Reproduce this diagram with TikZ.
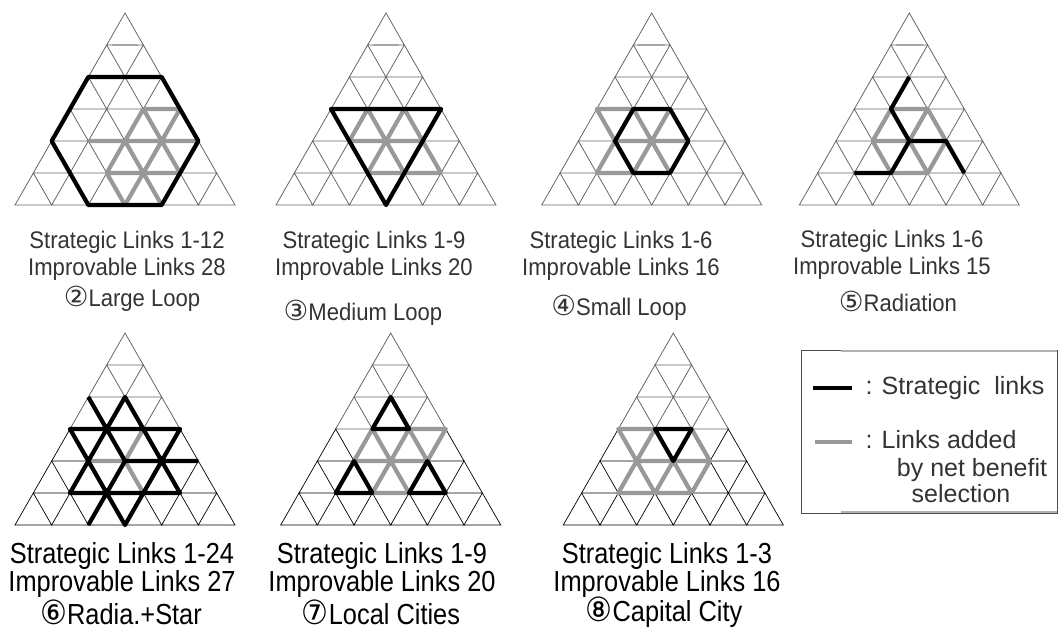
\documentclass[tikz,border=0pt]{standalone}
\usepackage{fontspec}
\setmainfont{Liberation Sans}
\newfontfamily\topfont{Liberation Sans}[FakeStretch=0.92]
\newfontfamily\condfont{Liberation Sans}[FakeStretch=0.875]
\newfontfamily\circfont{DejaVu Sans}[Scale=1.15]
\newfontfamily\condcirc{DejaVu Sans}[Scale=1.15, FakeStretch=0.9]
\tikzset{
    lattice/.style={black, line width=0.7pt}, % thin grid lines
    faint/.style={black!60, line width=0.8pt}, % blurred grid lines
    strat/.style={black, line width=4.2pt, line join=round}, % strategic links
    added/.style={gray!80, line width=4.2pt, line join=round}, % links added by net benefit
    topdash/.style={black!35, line width=2.2pt, shorten <=5pt, shorten >=5pt},
    toptext/.style={align=center, text=black!80, font=\topfont\fontsize{24}{27}\selectfont},
    bottext/.style={align=center, font=\condfont\fontsize{29}{27}\selectfont},
    legtext/.style={anchor=west, text=black!80, font=\fontsize{25}{29}\selectfont},
    }
% triangular grid: name, apex x, apex y, style of upper rows, style of lower rows
\newcommand{\trigrid}[5]{%
  \foreach \r in {0,...,6}
    \foreach \k in {0,...,\r}
      \coordinate (#1-\r-\k) at ({#2+(\k-\r/2)*36.67},{#3+\r*32});
  \foreach \r in {0,...,5}{
    \pgfmathtruncatemacro\rr{\r+1}
    \foreach \k in {0,...,\r}{
      \pgfmathtruncatemacro\kk{\k+1}
      \ifnum\r<3
        \draw[#4] (#1-\r-\k) -- (#1-\rr-\k) -- (#1-\rr-\kk) -- cycle;
      \else
        \draw[#5] (#1-\r-\k) -- (#1-\rr-\k) -- (#1-\rr-\kk) -- cycle;
      \fi
    }
  }
}

\begin{document}
\begin{tikzpicture}[x=1pt, y=-1pt]
\useasboundingbox (0,0) rectangle (1058,633);

% top row
\trigrid{L}{125}{13}{faint}{faint}
\trigrid{M}{386}{13}{faint}{faint}
\trigrid{S}{651.7}{13}{faint}{faint}
\trigrid{R}{909.3}{13}{faint}{faint}
% bottom row
\trigrid{X}{125}{333}{faint}{lattice}
\trigrid{C}{390.7}{333}{faint}{lattice}
\trigrid{K}{673.3}{333}{faint}{lattice}

\foreach \t in {L,M,S,R}
  \draw[topdash] (\t-1-0) -- (\t-1-1);

% 2 large loop
\draw[added] (L-3-2) -- (L-3-3) (L-4-1) -- (L-4-4) (L-5-2) -- (L-5-4)
  (L-3-2) -- (L-5-2) (L-3-3) -- (L-6-3) (L-3-2) -- (L-5-4)
  (L-4-2) -- (L-6-4) (L-5-4) -- (L-4-4) (L-5-2) -- (L-6-3);
\draw[strat] (L-2-0) -- (L-2-2) -- (L-4-4) -- (L-6-4) -- (L-6-2) -- (L-4-0) -- cycle;

% 3 medium loop
\draw[added] (M-4-1) -- (M-4-3) (M-5-2) -- (M-5-4) (M-3-1) -- (M-4-1)
  (M-3-1) -- (M-4-2) (M-3-2) -- (M-5-2) (M-3-2) -- (M-5-4) (M-4-2) -- (M-5-3);
\draw[strat] (M-3-0) -- (M-3-3) -- (M-6-3) -- cycle;

% 4 small loop
\draw[added] (S-4-1) -- (S-4-3) (S-3-1) -- (S-5-3) (S-3-2) -- (S-5-2)
  (S-3-1) -- (S-3-0) -- (S-4-1) -- (S-5-1) -- (S-5-2);
\draw[strat] (S-3-1) -- (S-3-2) -- (S-4-3) -- (S-5-3) -- (S-5-2) -- (S-4-1) -- cycle;

% 5 radiation
\draw[added] (R-3-1) -- (R-3-2) -- (R-4-3) -- (R-5-3) -- (R-5-2) -- (R-4-1) -- cycle
  (R-4-2) -- (R-3-2) (R-4-2) -- (R-5-3) (R-4-2) -- (R-4-1);
\draw[strat] (R-2-1) -- (R-3-1) -- (R-4-2) -- (R-4-3) -- (R-5-4)
  (R-4-2) -- (R-5-2) -- (R-5-1);

% 6 radiation + star
\draw[added] (X-4-1) -- (X-4-2) -- (X-3-2) (X-4-2) -- (X-5-3);
\draw[strat] (X-2-1) -- (X-5-1) -- (X-5-4) -- cycle
  (X-3-0) -- (X-3-3) -- (X-6-3) -- cycle
  (X-2-0) -- (X-4-2) -- (X-4-4) (X-4-2) -- (X-6-2);

% 7 local cities
\draw[added] (C-3-2) -- (C-3-3) -- (C-4-3) (C-3-1) -- (C-4-1) (C-3-1) -- (C-5-3)
  (C-3-2) -- (C-5-2) (C-3-2) -- (C-4-3) (C-4-1) -- (C-4-3) (C-5-2) -- (C-5-3);
\draw[strat] (C-2-1) -- (C-3-1) -- (C-3-2) -- cycle
  (C-4-1) -- (C-5-1) -- (C-5-2) -- cycle
  (C-4-3) -- (C-5-3) -- (C-5-4) -- cycle;

% 8 capital city
\draw[added] (K-3-1) -- (K-3-0) -- (K-4-1) -- (K-3-1) (K-3-2) -- (K-4-3) -- (K-5-3)
  (K-4-1) -- (K-4-3) (K-4-1) -- (K-5-1) -- (K-5-3) (K-4-1) -- (K-5-2) -- (K-4-2) -- (K-5-3);
\draw[strat] (K-3-1) -- (K-3-2) -- (K-4-2) -- cycle;

% captions
\node[toptext] (L-cap) at (127,256) {Strategic Links 1-12\\Improvable Links 28};
\node[toptext] (L-title) at (132,299) {{\circfont②}Large Loop};
\node[toptext] (M-cap) at (374,256) {Strategic Links 1-9\\Improvable Links 20};
\node[toptext] (M-title) at (363,313) {{\circfont③}Medium Loop};
\node[toptext] (S-cap) at (621,256) {Strategic Links 1-6\\Improvable Links 16};
\node[toptext] (S-title) at (619,308) {{\circfont④}Small Loop};
\node[toptext] (R-cap) at (892,255) {Strategic Links 1-6\\Improvable Links 15};
\node[toptext] (R-title) at (898,301) {{\circfont⑤}Radiation};

\node[bottext] (X-cap) at (122,570) {Strategic Links 1-24\\Improvable Links 27};
\node[bottext] (X-title) at (121,612) {{\condcirc⑥}Radia.+Star};
\node[bottext] (C-cap) at (382,570) {Strategic Links 1-9\\Improvable Links 20};
\node[bottext] (C-title) at (381,612) {{\condcirc⑦}Local Cities};
\node[bottext] (K-cap) at (667,570) {Strategic Links 1-3\\Improvable Links 16};
\node[bottext] (K-title) at (664,612) {{\condcirc⑧}Capital City};

% legend
\draw[black!70, line width=0.8pt] (801,350) rectangle (1057,513);
\draw[gray!60, line width=2.5pt] (841,351) -- (1057,351) (841,512) -- (1057,512);
\coordinate (sw1a) at (813,388);
\coordinate (sw1b) at (852,388);
\coordinate (sw2a) at (815,442);
\coordinate (sw2b) at (852,442);
\draw[strat, line width=4.5pt] (sw1a) -- (sw1b);
\draw[added, line width=4pt] (sw2a) -- (sw2b);
\node[legtext] (leg1) at (862,388) {: Strategic\ \ links};
\node[legtext] (leg2) at (862,440) {: Links added};
\node[legtext, anchor=center] (leg3) at (972,470) {by net benefit};
\node[legtext, anchor=center] (leg4) at (961,494) {selection};
\end{tikzpicture}
\end{document}
